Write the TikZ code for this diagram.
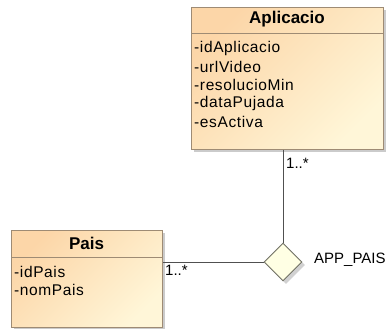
\documentclass[tikz,border=0pt]{standalone}
\usepackage{fontspec}
\setmainfont{Liberation Sans}
\newfontfamily\attrfont[LetterSpace=4]{Liberation Sans}
\usetikzlibrary{shapes.geometric,shadows}
\definecolor{peachA}{HTML}{FCD6A8}
\definecolor{peachB}{HTML}{FFF6D8}
\definecolor{boxborder}{HTML}{9E8B74}
\definecolor{diafill}{HTML}{FFFFE4}
\definecolor{diaborder}{HTML}{707064}
\definecolor{linecol}{HTML}{505050}
\tikzset{
  umlbox/.style={draw=boxborder, line width=0.9pt, top color=peachA, bottom color=peachB, shading angle=45,
    inner sep=0pt, anchor=north west,
    drop shadow={shadow xshift=3pt, shadow yshift=-3pt, fill=black!45, opacity=0.45}},
  sep/.style={draw=boxborder, line width=0.9pt},
  title/.style={font=\fontsize{17}{20}\selectfont\bfseries, inner sep=0pt},
  attr/.style={font=\attrfont\fontsize{15.5}{18}\selectfont, inner sep=0pt, anchor=west},
  assoc/.style={shape=diamond, draw=diaborder, fill=diafill, line width=0.9pt, inner sep=0pt,
    minimum width=38pt, minimum height=38pt,
    drop shadow={shadow xshift=3pt, shadow yshift=-3pt, fill=black!45, opacity=0.4}},
  conn/.style={draw=linecol, line width=0.9pt},
  mult/.style={font=\fontsize{15}{18}\selectfont, inner sep=0pt, anchor=north west},
}
\begin{document}
\begin{tikzpicture}[x=1pt,y=-1pt]
\useasboundingbox (0,0) rectangle (388,329);
% Aplicacio
\node[umlbox, minimum width=192pt, minimum height=142pt] (app) at (191,7) {};
\coordinate (appsepL) at (191,33);
\coordinate (appsepR) at (383,33);
\draw[sep] (appsepL) -- (appsepR);
\node[title] (apptitle) at (287,19.5) {Aplicacio};
\node[attr] (a1) at (194,48) {-idAplicacio};
\node[attr] (a2) at (194,66.5) {-urlVideo};
\node[attr] (a3) at (194,85) {-resolucioMin};
\node[attr] (a4) at (194,103.5) {-dataPujada};
\node[attr] (a5) at (194,122) {-esActiva};
% Pais
\node[umlbox, minimum width=151pt, minimum height=97pt] (pais) at (11,230) {};
\coordinate (paissepL) at (11,257);
\coordinate (paissepR) at (162,257);
\draw[sep] (paissepL) -- (paissepR);
\node[title] (paistitle) at (86.5,243.5) {Pais};
\node[attr] (p1) at (14,272) {-idPais};
\node[attr] (p2) at (14,290) {-nomPais};
% association
\node[assoc] (dia) at (283,262) {};
\draw[conn] (dia.north |- app.south) -- (dia.north);
\draw[conn] (pais.east |- dia.west) -- (dia.west);
\node[mult] (m1) at (286,158) {1..*};
\node[mult] (m2) at (165,265) {1..*};
\node[font=\fontsize{15}{18}\selectfont, inner sep=0pt, anchor=west] (lbl) at (314,260) {APP\_PAIS};
\end{tikzpicture}
\end{document}
